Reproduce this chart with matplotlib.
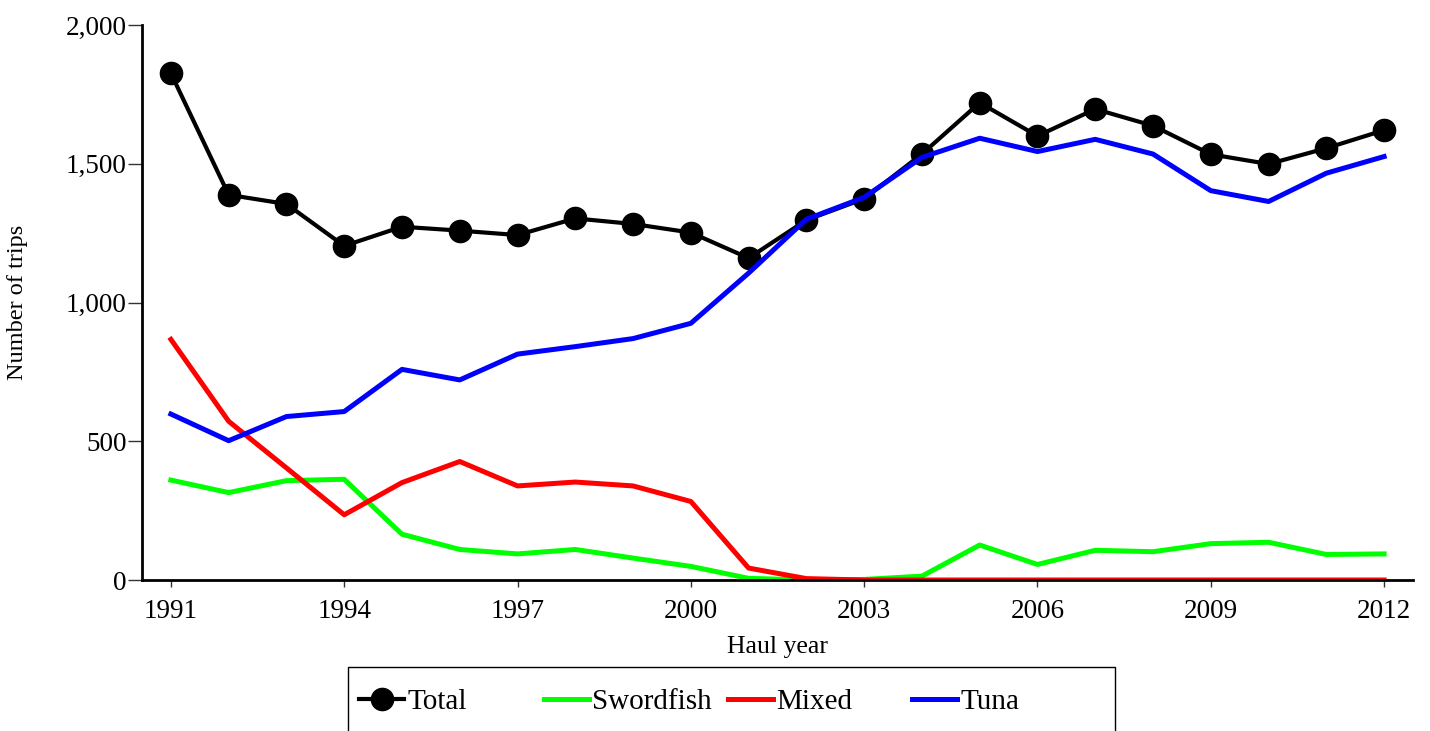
import numpy as np
import matplotlib
matplotlib.use("Agg")
import matplotlib.pyplot as plt
from matplotlib.patches import Rectangle
from matplotlib.ticker import FuncFormatter

#%% data
years = list(range(1991, 2013))
total = [1826, 1388, 1355, 1204, 1273, 1259, 1243, 1303, 1283, 1252, 1160,
         1297, 1374, 1535, 1720, 1600, 1697, 1637, 1534, 1499, 1556, 1621]
swordfish = [360, 315, 358, 363, 165, 110, 94, 110, 79, 49, 6,
             0, 2, 14, 126, 56, 107, 102, 131, 136, 92, 94]
mixed = [867, 572, 404, 235, 351, 427, 339, 353, 339, 283, 43,
         5, 0, 0, 0, 0, 0, 0, 0, 0, 0, 0]
tuna = [598, 502, 589, 607, 759, 721, 814, 841, 870, 925, 1106,
        1300, 1379, 1523, 1592, 1544, 1588, 1535, 1403, 1364, 1466, 1526]
xticks = [1991, 1994, 1997, 2000, 2003, 2006, 2009, 2012]
yticks = [0, 500, 1000, 1500, 2000]

#%% figure
plt.rcParams["font.family"] = ["Liberation Serif", "DejaVu Serif"]
W, H = 1430, 731
fig = plt.figure(figsize=(W / 100, H / 100), dpi=100)
ax = fig.add_axes([142 / W, 1 - 580 / H, (1413 - 142) / W, (580 - 25) / H])

lines = []
lines += ax.plot(years, total, color="black", lw=3, marker="o", ms=16, label="Total")
lines += ax.plot(years, swordfish, color="#00ff00", lw=3.6, label="Swordfish")
lines += ax.plot(years, mixed, color="red", lw=3.6, label="Mixed")
lines += ax.plot(years, tuna, color="blue", lw=3.6, label="Tuna")

ax.set_xlim(1990.5, 2012.5)
ax.set_ylim(0, 2000)
ax.set_xticks(xticks)
ax.set_yticks(yticks)
ax.yaxis.set_major_formatter(FuncFormatter(lambda v, p: "{:,.0f}".format(v)))
ax.tick_params(axis="both", direction="out", labelsize=19.5, width=1, color="#333333")
ax.tick_params(axis="y", length=10, pad=1)
ax.tick_params(axis="x", length=5, pad=9)

for s in ["top", "right"]:
    ax.spines[s].set_visible(False)
for s in ["left", "bottom"]:
    ax.spines[s].set_linewidth(2)

ax.set_xlabel("Haul year", fontsize=18.5, labelpad=8)
ax.set_ylabel("Number of trips", fontsize=17.5, labelpad=27)

# legend box runs off the bottom edge, as in the original
fig.patches.append(Rectangle((348 / W, -0.05), (1115 - 348) / W, 0.05 + (731 - 667) / H,
                             transform=fig.transFigure, facecolor="none",
                             edgecolor="black", lw=1))
# equal-width legend columns -> one small legend per entry
col_x = [359, 544, 728, 912]
for ln, cx in zip(lines, col_x):
    lg = fig.legend(handles=[ln], loc="center left", bbox_to_anchor=(cx / W, 1 - 702 / H),
                    fontsize=21, frameon=False, handlelength=1.55, handletextpad=0.1,
                    borderaxespad=0, borderpad=0)

plt.savefig("out.png", dpi=100)
